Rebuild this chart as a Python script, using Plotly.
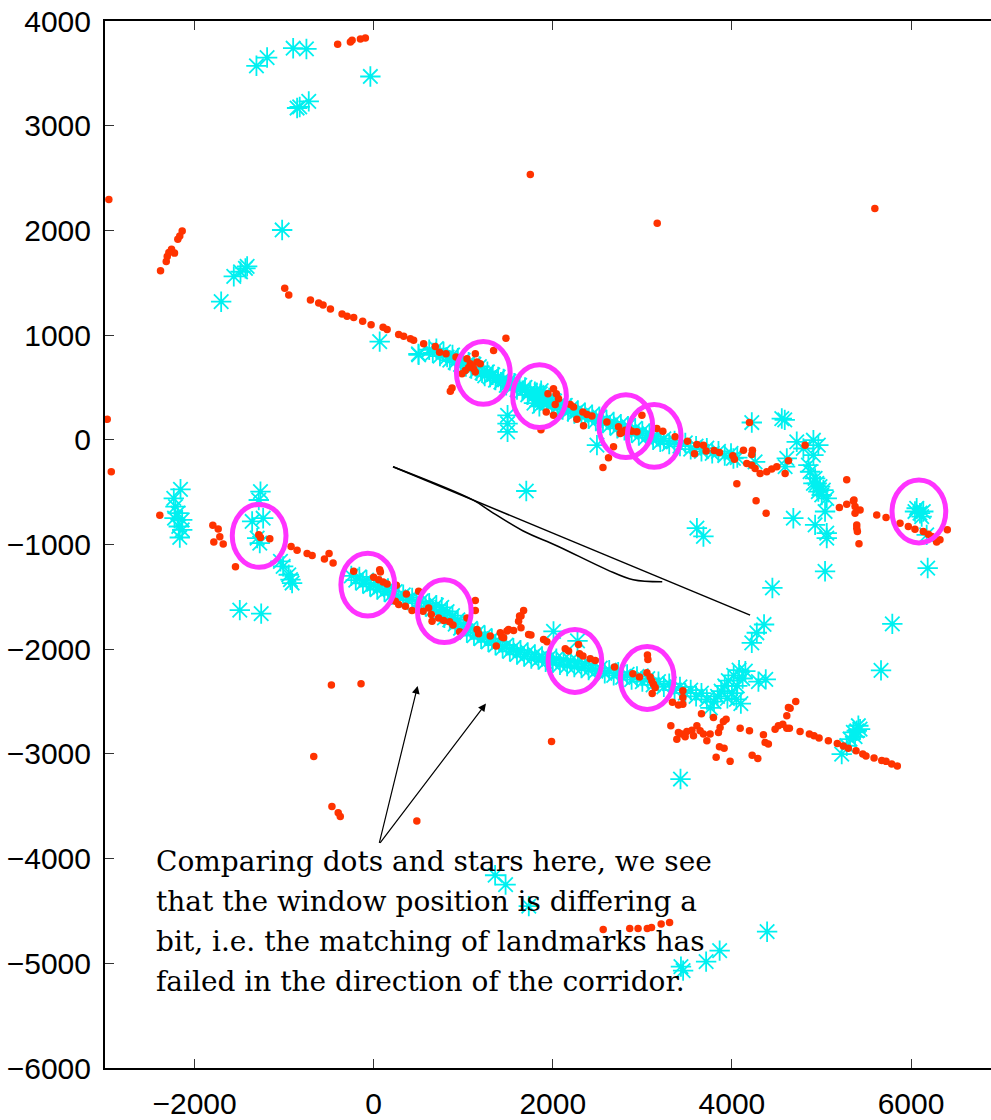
import plotly.graph_objects as go

# ---------------- data (x, y) ----------------
red_top = [(-402, 3778), (-260, 3800), (-241, 3816), (-148, 3829), (-93, 3838),
           (1749, 2534), (3166, 2068), (5596, 2210),
           (-2957, 2296), (-2975, 196), (-2930, -305)]
red_left_cluster = [(-2380, 1614), (-2316, 1703), (-2305, 1751), (-2257, 1821), (-2224, 1783),
                    (-2287, 1789), (-2187, 1916), (-2165, 1947), (-2138, 1995)]
red_upper = [(-993, 1447), (-948, 1383), (-706, 1335), (-614, 1307), (-565, 1288), (-483, 1250),
             (-353, 1202), (-297, 1180), (-223, 1167), (-123, 1132), (-29, 1100), (105, 1075),
             (150, 1053), (279, 1005), (335, 990), (410, 964), (446, 952), (558, 917), (688, 891),
             (736, 837), (808, 821), (919, 790), (1135, 821), (1339, 853), (1477, 971), (1042, 774),
             (1079, 726), (1154, 742), (1116, 679), (1023, 662), (1135, 647), (986, 631), (1190, 726),
             (875, 495), (856, 463), (1100, 700), (1060, 690),
             (1946, 441), (2008, 488), (2039, 441), (2064, 393), (2027, 336), (2008, 234), (1927, 266),
             (1868, 95), (2195, 336), (2232, 314), (2269, 196), (2336, 266), (2381, 241), (2437, 228),
             (2343, 133), (2604, 171), (2734, 124), (2753, 60), (2808, 91), (2883, 82), (2939, 76),
             (2995, 234), (2678, -67), (2622, -171), (2560, -264), (2770, 70), (2850, 100),
             (3162, 108), (3229, 82), (3366, 29), (3504, -13), (3609, -45), (3682, -51), (3582, -133),
             (3712, -108), (3801, -102), (3861, -121), (4010, -152), (4028, -185), (4129, -99),
             (4229, -99), (4222, -140), (4196, 165), (4055, -419), (4166, -226), (4222, -242),
             (4259, -273), (4315, -321), (4389, -305), (4445, -280), (4501, -257), (4594, -321),
             (4631, -200), (4817, -51), (4270, -581), (4382, -701)]
red_right = [(5282, -381), (5200, -647), (5282, -616), (5356, -584), (5375, -638), (5431, -670),
             (5394, -813), (5401, -876), (5419, -994), (5394, -845), (5375, -701), (5617, -718),
             (5721, -742), (5877, -797), (5970, -828), (6044, -854), (6137, -876), (6193, -901),
             (6231, -923), (6286, -977), (6323, -955), (6405, -860), (5363, -575)]
red_lower_left = [(-2388, -720), (-1796, -816), (-1736, -851), (-1718, -927), (-1785, -977),
                  (-1680, -996), (-1283, -908), (-1264, -933), (-1160, -946), (-1543, -1212),
                  (-922, -1018), (-855, -1056), (-743, -1085), (-687, -1104), (-550, -1139),
                  (-498, -1085), (-453, -1177), (-223, -1256)]
red_lower = [(67, -1241), (75, -1263), (0, -1313), (56, -1336), (105, -1358), (150, -1377),
             (253, -1390), (242, -1542), (279, -1574), (365, -1472), (502, -1447), (354, -1589),
             (428, -1631), (551, -1637), (614, -1606), (644, -1669), (652, -1732), (725, -1701),
             (781, -1726), (848, -1739), (886, -1770), (960, -1834), (1042, -1701), (1135, -1536),
             (1135, -1631), (1154, -1812), (1172, -1853), (1302, -1875), (1369, -1970), (1414, -1843),
             (1451, -1891), (1506, -1812), (1562, -1822), (1629, -1684), (1618, -1732), (1674, -1631),
             (1645, -1684), (1645, -1796), (1488, -1827), (1433, -1884), (1730, -1860), (1756, -1865),
             (1897, -1907), (1935, -1929), (2139, -1996), (2176, -2018), (2287, -1955), (2299, -2043),
             (2337, -2065), (2418, -2091), (2474, -2107), (2689, -2170), (2894, -2234), (2968, -2265),
             (3057, -2056), (3062, -2098), (3051, -2224), (3087, -2265), (3106, -2303), (3124, -2335),
             (3143, -2367), (3110, -2424), (3452, -2398), (3452, -2462), (3452, -2526), (3403, -2532),
             (3336, -2507)]
red_isolated = [(-472, -2341), (-141, -2329), (-669, -3026), (1986, -2881), (-466, -3502),
                (-396, -3563), (-373, -3598), (482, -3642),
                (2563, -4677), (2859, -4667), (2952, -4667), (3055, -4667), (3102, -4657),
                (3210, -4625), (3304, -4610)]
red_lower_right = [(3660, -2617), (3794, -2652), (3318, -2731), (3403, -2795), (3441, -2811),
                   (3497, -2786), (3553, -2773), (3609, -2731), (3645, -2779), (3682, -2811),
                   (3720, -2874), (3385, -2859), (3571, -2827), (3478, -2836), (3757, -2811),
                   (3850, -2795), (3868, -2748), (3905, -2690), (3935, -2669), (3861, -2931),
                   (3913, -2945), (3824, -3033), (3980, -3071), (4092, -2754), (4196, -2779),
                   (4226, -3014), (4289, -3043), (4352, -2817), (4371, -2890), (4407, -2906),
                   (4482, -2764), (4519, -2731), (4568, -2716), (4613, -2754), (4642, -2754),
                   (4613, -2636), (4631, -2557), (4650, -2564), (4713, -2500), (4761, -2786),
                   (4865, -2811), (4917, -2827), (4973, -2849), (5077, -2874), (5177, -2900),
                   (5244, -2925), (5300, -2945), (5386, -2969), (5461, -3002), (5497, -3021),
                   (5587, -3040), (5673, -3064), (5721, -3071), (5784, -3097), (5847, -3116)]

star_scattered = [(-1309, 3572), (-1190, 3651), (-899, 3740), (-751, 3733), (-37, 3470),
                  (-855, 3169), (-826, 3179), (-725, 3232), (-1022, 2004), (-1562, 1561),
                  (-1487, 1605), (-1432, 1637), (-1413, 1656), (-1703, 1319), (67, 938), (502, 812),
                  (1495, 234), (1495, 155), (1495, 76), (1704, -489), (2493, -51), (3609, -844),
                  (3682, -923), (4222, 165), (4557, 203), (4590, 190), (4017, -178), (4259, -211),
                  (4594, -257), (4613, -178), (5040, -1256), (4452, -1415), (4359, -1764),
                  (4278, -1843), (4222, -1939), (5791, -1758), (5665, -2202), (3426, -3240),
                  (1356, -4159), (1473, -4248), (1732, -4454), (3431, -5032), (3455, -5070),
                  (3712, -4984), (3863, -4879), (4393, -4698), (2008, -1830), (2276, -1920)]
star_right_cluster = [(4724, -19), (4798, -83), (4910, -4), (4965, -51), (4910, -146), (4854, -242),
                      (4873, -305), (4929, -368), (4947, -416), (4984, -447), (5021, -480),
                      (4965, -495), (5003, -527), (5059, -559), (4910, -416), (5040, -685),
                      (4929, -813), (5059, -892), (5059, -939), (4686, -749),
                      (6063, -654), (6100, -701), (6119, -733), (6044, -685), (6137, -685),
                      (6175, -908), (6186, -1225)]
star_lower_right = [(5412, -2731), (5356, -2795), (5319, -2859), (5282, -2922), (5226, -3002),
                    (5394, -2779), (5431, -2764), (5375, -2836)]
star_lower_left = [(-2157, -473), (-2232, -559), (-2213, -638), (-2187, -701), (-2224, -749),
                   (-2138, -765), (-2176, -828), (-2138, -860), (-2165, -933), (-1264, -495),
                   (-1283, -575), (-1357, -780), (-1234, -749), (-1301, -939), (-1272, -987),
                   (-1041, -1161), (-1011, -1209), (-948, -1289), (-929, -1336), (-911, -1368),
                   (-1495, -1627), (-1256, -1660)]
star_upper_band = [(500, 820), (620, 860), (660, 830), (700, 870), (740, 800), (780, 840), (820, 790),
                   (850, 760), (880, 810), (910, 740), (940, 780), (970, 720), (1000, 760), (1030, 700),
                   (1060, 740), (1090, 680), (1120, 720), (1150, 660), (1180, 700), (1210, 640),
                   (1240, 610), (1270, 650), (1300, 600), (1330, 620), (1360, 570), (1390, 600),
                   (1420, 550), (1450, 580), (1480, 520), (1510, 560), (1540, 500), (1570, 540),
                   (1600, 480), (1630, 520), (1660, 470), (1690, 500), (1720, 430), (1750, 470),
                   (1780, 410), (1800, 460), (1830, 390), (1860, 440), (1880, 380), (1900, 420),
                   (1820, 450), (1870, 470), (1900, 360), (1850, 320), (1790, 350),
                   (1930, 350), (1960, 400), (1990, 330), (2020, 370), (2050, 310), (2080, 350),
                   (2110, 290), (2140, 330), (2170, 270), (2200, 300), (2240, 250), (2280, 280),
                   (2320, 230), (2360, 260), (2400, 200), (2440, 240), (2480, 180), (2520, 220),
                   (2560, 160), (2600, 190), (2640, 140), (2680, 170), (2720, 110), (2760, 150),
                   (2800, 90), (2840, 130), (2880, 70), (2920, 110), (2960, 40), (3000, 80),
                   (3040, 20), (3080, 60), (3120, 0), (3160, 30), (3200, -20), (3240, 10),
                   (3300, -40), (3360, -10), (3420, -60), (3480, -30), (3540, -90), (3600, -60),
                   (3660, -110), (3720, -80), (3780, -130), (3850, -110), (3920, -150), (3990, -130),
                   (4060, -170)]
star_lower_band = [(-250, -1300), (-200, -1340), (-160, -1310), (-120, -1370), (-80, -1340),
                   (-40, -1400), (0, -1380), (40, -1430), (80, -1400), (120, -1450), (160, -1420),
                   (200, -1480), (240, -1450), (280, -1500), (330, -1480), (380, -1530), (430, -1510),
                   (480, -1560), (530, -1540), (580, -1590), (620, -1560), (660, -1620), (700, -1580),
                   (740, -1660), (760, -1600), (790, -1700), (820, -1640), (850, -1720), (880, -1680),
                   (910, -1760), (940, -1720), (970, -1800), (1000, -1760), (1040, -1840),
                   (1080, -1800), (1120, -1870), (1160, -1840), (1200, -1900), (1240, -1870),
                   (1280, -1930), (1320, -1900), (1360, -1960), (1400, -1930), (1440, -1990),
                   (1480, -1960), (1520, -2020), (1560, -1990), (1600, -2050), (1640, -2010),
                   (1680, -2070), (1720, -2030), (1760, -2090), (1800, -2050), (1840, -2100),
                   (1880, -2070), (1920, -2120), (1960, -2080), (2000, -2130), (2040, -2090),
                   (2080, -2150), (2120, -2100), (2160, -2160), (2200, -2110), (2240, -2170),
                   (2280, -2120), (2320, -2180), (2360, -2140), (2400, -2200), (2440, -2160),
                   (2480, -2210), (2530, -2180), (2580, -2230), (2630, -2200), (2680, -2250),
                   (2730, -2220), (2780, -2270), (2830, -2240), (2880, -2290), (2940, -2260),
                   (3000, -2310), (3060, -2280), (3120, -2340), (3180, -2310), (3240, -2360),
                   (3300, -2330), (3360, -2390), (3420, -2360), (3480, -2420), (3540, -2390),
                   (3600, -2450), (3660, -2420), (3720, -2480), (3760, -2560), (3800, -2500),
                   (3840, -2450), (3880, -2400), (3920, -2350), (3960, -2300), (4000, -2420),
                   (4020, -2250), (4060, -2350), (4080, -2200), (4120, -2280), (4150, -2210),
                   (4050, -2480), (4100, -2520), (3950, -2470), (4378, -2288), (4296, -2310)]

circle_centers = [(1224, 640), (1852, 418), (2816, 130), (3132, 38), (6088, -685),
                  (-1279, -917), (-66, -1384), (789, -1637), (2247, -2113), (3054, -2275)]
circle_radius = 300

line_x = [216, 4203]
line_y = [-257, -1675]
curve_x = [216, 1112, 1302, 1670, 2050, 2608, 2898, 3222]
curve_y = [-257, -576, -681, -871, -1014, -1242, -1337, -1356]

arrow_tail = (59, -3864)
arrow_heads = [(491, -2351), (1254, -2519)]

note_lines = ["Comparing dots and stars here, we see",
              "that the window position is differing a",
              "bit, i.e. the matching of landmarks has",
              "failed in the direction of the corridor."]
note_x = -2448
note_line_y = [-4023, -4413, -4793, -5174]

x_ticks = [-2000, 0, 2000, 4000, 6000]
y_ticks = [4000, 3000, 2000, 1000, 0, -1000, -2000, -3000, -4000, -5000, -6000]

# ---------------- figure ----------------
reds = red_top + red_left_cluster + red_upper + red_right + red_lower_left + red_lower + red_isolated + red_lower_right
stars = star_scattered + star_right_cluster + star_lower_right + star_lower_left + star_upper_band + star_lower_band

fig = go.Figure()
fig.add_trace(go.Scatter(
    x=[p[0] for p in stars], y=[p[1] for p in stars], mode="markers",
    marker=dict(symbol="asterisk-open", size=17, color="#00f0f0",
                line=dict(color="#00f0f0", width=1.8)),
    showlegend=False, hoverinfo="skip"))
fig.add_trace(go.Scatter(
    x=[p[0] for p in reds], y=[p[1] for p in reds], mode="markers",
    marker=dict(symbol="circle", size=7.5, color="#ff3300", line=dict(width=0)),
    showlegend=False, hoverinfo="skip"))
fig.add_trace(go.Scatter(x=line_x, y=line_y, mode="lines",
                         line=dict(color="black", width=1.5), showlegend=False, hoverinfo="skip"))
fig.add_trace(go.Scatter(x=curve_x, y=curve_y, mode="lines", line_shape="spline",
                         line=dict(color="black", width=1.5), showlegend=False, hoverinfo="skip"))

for cx, cy in circle_centers:
    fig.add_shape(type="circle", xref="x", yref="y",
                  x0=cx - circle_radius, x1=cx + circle_radius,
                  y0=cy - circle_radius, y1=cy + circle_radius,
                  line=dict(color="#ff33ff", width=5))

for hx, hy in arrow_heads:
    fig.add_annotation(x=hx, y=hy, ax=arrow_tail[0], ay=arrow_tail[1],
                       xref="x", yref="y", axref="x", ayref="y", text="",
                       showarrow=True, arrowhead=2, arrowsize=1.3, arrowwidth=1.2,
                       arrowcolor="black", standoff=0, startstandoff=0)

for txt, ty in zip(note_lines, note_line_y):
    fig.add_annotation(x=note_x, y=ty, xref="x", yref="y", text=txt,
                       showarrow=False, xanchor="left", yanchor="middle", align="left",
                       font=dict(family="DejaVu Serif", size=28, color="black"))

fig.update_layout(
    width=991, height=1120,
    margin=dict(l=105, r=0, t=21, b=48),
    paper_bgcolor="white", plot_bgcolor="white",
    font=dict(family="Liberation Sans", size=30, color="black"),
    xaxis=dict(range=[-3000, 6893], tickvals=x_ticks, ticks="inside", ticklen=9,
               tickwidth=1, tickcolor="#333", showline=True, linecolor="black", linewidth=2,
               mirror="ticks", showgrid=False, zeroline=False, ticklabelstandoff=8),
    yaxis=dict(range=[-6000, 4000], tickvals=y_ticks, ticks="inside", ticklen=9,
               tickwidth=1, tickcolor="#333", showline=True, linecolor="black", linewidth=2,
               mirror=False, showgrid=False, zeroline=False, ticklabelstandoff=6),
)

fig.write_html("out.html")
